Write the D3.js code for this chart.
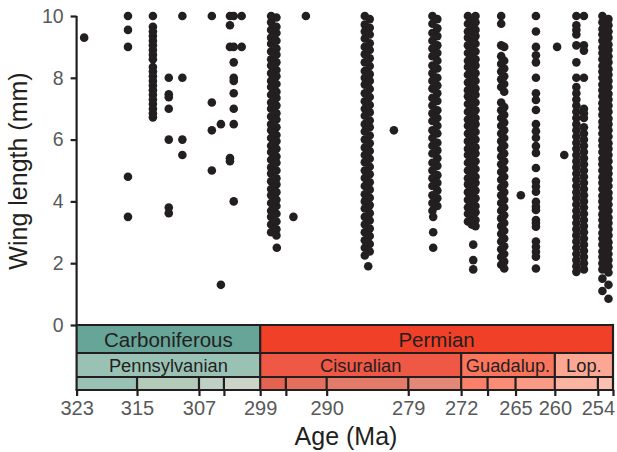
<!DOCTYPE html>
<html><head><meta charset="utf-8">
<script src="https://cdn.jsdelivr.net/npm/d3@7"></script>
<style>
body{margin:0;background:#fff;}
svg{display:block;font-family:"Liberation Sans",Arial,Helvetica,sans-serif;}
</style></head><body>
<svg id="chart" width="617" height="452"></svg>
<script>
// ---------- DATA ----------
// Geological time scale (Ma)
const periodNames = ["Carboniferous", "Permian"];
const periodBounds = [323.2, 298.9, 252.2];
const periodColors = ["#67A599", "#F04028"];

const epochNames = ["Pennsylvanian", "Cisuralian", "Guadalup.", "Lop."];
const epochBounds = [323.2, 298.9, 272.3, 259.9, 252.2];
const epochColors = ["#99C2B5", "#EF5845", "#FB745C", "#FBA794"];

const stageBounds = [323.2, 315.2, 307.0, 303.7, 298.9, 295.5, 290.1, 279.3, 272.3, 268.8, 265.1, 259.9, 254.2, 252.2];
const stageColors = ["#99C2B5", "#B3CBB9", "#BFD0C5", "#CCD4C7", "#E36350", "#E36F5C", "#E37B68", "#E38776", "#FB8069", "#FB8D76", "#FB9A85", "#FCB4A2", "#FCC0B2"];

const xTickAges = [323.2, 315.2, 307.0, 303.7, 298.9, 295.5, 290.1, 279.3, 272.3, 268.8, 265.1, 259.9, 254.2, 252.2];
const xTickLabels = ["323", "315", "307", "", "299", "", "290", "279", "272", "", "265", "260", "254", ""];
const yTicks = [0, 2, 4, 6, 8, 10];

// Occurrences: age of each collection and the wing lengths (mm) found there
const columnAges = [
  322.2, 316.4, 313.1, 311.0, 309.2, 305.3, 304.1, 302.9, 302.4, 301.35,
  297.45, 296.75, 296.7, 294.5, 292.85,
  285.05, 284.4, 284.6, 281.2,
  276.1, 275.45, 276.0,
  271.4, 270.9, 270.4, 270.7,
  267.0, 266.6, 264.4, 262.4, 259.6, 258.65,
  257.05, 256.05, 253.6, 252.8
];
const wingLengths = [
  [9.3],
  [10, 9.55, 9.0, 4.8, 3.5],
  [10, 9.65, 9.5, 9.35, 9.2, 9.05, 8.9, 8.75, 8.6, 8.35, 8.2, 8.05, 7.9, 7.75, 7.6, 7.45, 7.3, 7.15, 7.0, 6.85, 6.72],
  [8.0, 7.47, 7.37, 7.0, 6.0, 3.8, 3.62],
  [10, 8.0, 6.0, 5.5],
  [10, 7.2, 6.3, 5.0],
  [6.5, 1.3],
  [10, 9.7, 9.0, 5.4, 5.3],
  [10, 9.0, 8.5, 8.0, 7.9, 7.5, 7.0, 6.5, 4.0],
  [10, 9.0],
  [10.0, 9.8, 9.55, 9.3, 9.1, 8.85, 8.6, 8.4, 8.15, 7.9, 7.7, 7.45, 7.2, 7.0, 6.75, 6.5, 6.3, 6.05, 5.8, 5.6, 5.35, 5.1, 4.9, 4.65, 4.4, 4.2, 3.95, 3.7, 3.5, 3.25, 3.0],
  [9.95, 9.65, 9.45, 9.2, 8.95, 8.75, 8.5, 8.25, 8.05, 7.8, 7.55, 7.35, 7.1, 6.85, 6.65, 6.4, 6.15, 5.95, 5.7, 5.45, 5.25, 5.0, 4.75, 4.55, 4.3, 4.05, 3.85, 3.6, 3.35, 3.1, 2.9],
  [2.5],
  [3.5],
  [10],
  [10.0, 9.72, 9.5, 9.27, 9.0, 8.76, 8.5, 8.22, 8.0, 7.78, 7.5, 7.24, 7.0, 6.77, 6.5, 6.26, 6.0, 5.74, 5.5, 5.27, 5.0, 4.76, 4.5, 4.23, 4.0, 3.77, 3.5, 3.25, 3.0, 2.74, 2.5, 2.25],
  [9.9, 9.62, 9.4, 9.12, 8.9, 8.63, 8.38, 8.12, 7.9, 7.64, 7.38, 7.12, 6.88, 6.62, 6.4, 6.13, 5.88, 5.63, 5.38, 5.12, 4.88, 4.62, 4.38, 4.12, 3.88, 3.62, 3.38, 3.12, 2.88, 2.62, 2.38],
  [1.9],
  [6.3],
  [10.0, 9.75, 9.45, 9.2, 8.95, 8.7, 8.4, 8.15, 7.9, 7.65, 7.35, 7.1, 6.85, 6.6, 6.3, 6.05, 5.8, 5.55, 5.25, 5.0, 4.75, 4.5, 4.2, 3.95, 3.7],
  [9.9, 9.6, 9.35, 9.05, 8.8, 8.55, 8.3, 8.0, 7.75, 7.5, 7.25, 6.95, 6.7, 6.45, 6.2, 5.9, 5.65, 5.4, 5.15, 4.85, 4.6, 4.35, 4.1, 3.85],
  [3.5, 3.0, 2.5],
  [10.0, 9.75, 9.5, 9.3, 9.05, 8.8, 8.55, 8.35, 8.1, 7.85, 7.6, 7.4, 7.15, 6.9, 6.65, 6.45, 6.2, 5.95, 5.7, 5.5, 5.25, 5.0, 4.75, 4.55, 4.3, 4.05, 3.8, 3.6, 3.35],
  [9.9, 9.65, 9.4, 9.2, 8.95, 8.7, 8.45, 8.25, 8.0, 7.75, 7.5, 7.3, 7.05, 6.8, 6.55, 6.35, 6.1, 5.85, 5.6, 5.4, 5.15, 4.9, 4.65, 4.45, 4.2, 3.95, 3.7, 3.5, 3.25],
  [10.0, 9.8, 9.55, 9.35, 9.1, 8.85, 8.6, 8.4, 8.15, 7.9, 7.65, 7.45, 7.2, 6.95, 6.7, 6.5, 6.25, 6.0, 5.75, 5.55, 5.3, 5.05, 4.8, 4.6, 4.35, 4.1, 3.85, 3.65, 3.4, 3.2],
  [2.6, 2.1, 1.8],
  [10.0, 9.75, 9.05, 8.7, 8.45, 8.2, 7.95, 7.7, 7.2, 6.95, 6.7, 6.45, 6.2, 5.95, 5.7, 5.45, 5.2, 4.95, 4.7, 4.45, 4.2, 3.95, 3.7, 3.45, 3.2, 2.95, 2.7, 2.45, 2.2, 1.95],
  [9.0, 8.55, 8.3, 8.05, 7.8, 7.55, 7.05, 6.8, 6.55, 6.3, 6.05, 5.8, 5.55, 5.3, 5.05, 4.8, 4.55, 4.3, 4.05, 3.8, 3.55, 3.3, 3.05, 2.8, 2.55, 2.3, 2.05, 1.83],
  [4.2],
  [10, 9.5, 9.0, 8.73, 8.5, 8.0, 7.5, 7.28, 6.96, 6.5, 6.27, 6.06, 5.79, 5.57, 5.08, 4.64, 4.48, 4.31, 3.99, 3.83, 3.72, 3.4, 3.3, 3.18, 2.7, 2.53, 2.37, 2.21, 1.83],
  [9.0],
  [5.5],
  [10.0, 9.7, 9.55, 9.4, 9.05, 8.5, 8.0, 7.7, 7.5, 7.3, 7.1, 6.9, 6.7, 6.5, 6.3, 6.1, 5.9, 5.7, 5.5, 5.3, 5.1, 4.9, 4.7, 4.5, 4.3, 4.1, 3.9, 3.7, 3.5, 3.3, 3.1, 2.9, 2.7, 2.5, 2.3, 2.1, 1.9, 1.72],
  [10.0, 9.05, 8.88, 8.0, 7.0, 6.85, 6.7, 6.4, 6.2, 6.0, 5.8, 5.6, 5.4, 5.2, 5.0, 4.8, 4.6, 4.4, 4.2, 4.0, 3.8, 3.6, 3.4, 3.2, 3.0, 2.8, 2.6, 2.4, 2.2, 2.0, 1.8],
  [10.0, 9.8, 9.58, 9.4, 9.2, 8.98, 8.8, 8.6, 8.38, 8.2, 8.0, 7.78, 7.6, 7.4, 7.18, 7.0, 6.8, 6.58, 6.4, 6.2, 5.98, 5.8, 5.6, 5.38, 5.2, 5.0, 4.78, 4.6, 4.4, 4.18, 4.0, 3.8, 3.58, 3.4, 3.2, 2.98, 2.8, 2.6, 2.38, 2.2, 2.0, 1.8, 1.5, 1.1],
  [9.9, 9.7, 9.5, 9.3, 9.08, 8.9, 8.7, 8.5, 8.28, 8.1, 7.9, 7.7, 7.48, 7.3, 7.1, 6.9, 6.68, 6.5, 6.3, 6.1, 5.88, 5.7, 5.5, 5.3, 5.08, 4.9, 4.7, 4.5, 4.28, 4.1, 3.9, 3.7, 3.48, 3.3, 3.1, 2.9, 2.68, 2.5, 2.3, 2.1, 1.9, 1.7, 1.3, 0.85]
];

// ---------- CHART ----------
const svg = d3.select("#chart");
const ink = "#231f20";
const tickGray = "#58595b";
const x = d3.scaleLinear().domain([323.2, 252.2]).range([76.6, 613]);
const y = d3.scaleLinear().domain([0, 10]).range([325, 16]);
const rowTop = 325, rowEpoch = 353, rowStage = 377, rowBottom = 390;
const lw = 2.2;

const points = [];
columnAges.forEach((a, i) => wingLengths[i].forEach(v => points.push({age: a, wing: v})));

// Points
svg.append("g").selectAll("circle").data(points).join("circle")
  .attr("cx", d => x(d.age)).attr("cy", d => y(d.wing)).attr("r", 4.3)
  .attr("fill", ink);

// Time scale rows
const ts = svg.append("g");
const spans = (bounds) => d3.range(bounds.length - 1).map(i => ({a: bounds[i], b: bounds[i + 1], i}));
ts.selectAll("rect.period").data(spans(periodBounds)).join("rect")
  .attr("x", d => x(d.a)).attr("width", d => x(d.b) - x(d.a))
  .attr("y", rowTop).attr("height", rowEpoch - rowTop).attr("fill", d => periodColors[d.i]);
ts.selectAll("rect.epoch").data(spans(epochBounds)).join("rect")
  .attr("x", d => x(d.a)).attr("width", d => x(d.b) - x(d.a))
  .attr("y", rowEpoch).attr("height", rowStage - rowEpoch).attr("fill", d => epochColors[d.i]);
ts.selectAll("rect.stage").data(spans(stageBounds)).join("rect")
  .attr("x", d => x(d.a)).attr("width", d => x(d.b) - x(d.a))
  .attr("y", rowStage).attr("height", rowBottom - rowStage).attr("fill", d => stageColors[d.i]);

const x0 = x(periodBounds[0]), x1 = x(periodBounds[periodBounds.length - 1]);
// Horizontal rules
[rowTop, rowEpoch, rowStage].forEach(yy => ts.append("line")
  .attr("x1", x0).attr("x2", x1).attr("y1", yy).attr("y2", yy)
  .attr("stroke", ink).attr("stroke-width", lw));
// Vertical rules
stageBounds.slice(1, -1).forEach(a => ts.append("line")
  .attr("x1", x(a)).attr("x2", x(a)).attr("y1", rowStage).attr("y2", rowBottom)
  .attr("stroke", ink).attr("stroke-width", lw));
epochBounds.slice(1, -1).forEach(a => ts.append("line")
  .attr("x1", x(a)).attr("x2", x(a)).attr("y1", rowEpoch).attr("y2", rowStage)
  .attr("stroke", ink).attr("stroke-width", lw));
periodBounds.slice(1, -1).forEach(a => ts.append("line")
  .attr("x1", x(a)).attr("x2", x(a)).attr("y1", rowTop).attr("y2", rowEpoch)
  .attr("stroke", ink).attr("stroke-width", lw));
ts.append("line").attr("x1", x1).attr("x2", x1).attr("y1", rowTop - lw / 2).attr("y2", rowBottom)
  .attr("stroke", ink).attr("stroke-width", lw);

// Labels in time scale
ts.selectAll("text.period").data(spans(periodBounds)).join("text")
  .attr("x", d => (x(d.a) + x(d.b)) / 2).attr("y", 346.5)
  .attr("text-anchor", "middle").attr("font-size", "20.5px").attr("fill", ink)
  .text(d => periodNames[d.i]);
ts.selectAll("text.epoch").data(spans(epochBounds)).join("text")
  .attr("x", d => (x(d.a) + x(d.b)) / 2).attr("y", 372.3)
  .attr("text-anchor", "middle").attr("font-size", "18.3px").attr("fill", ink)
  .text(d => epochNames[d.i]);

// X axis
const xAxis = d3.axisBottom(x).tickValues(xTickAges)
  .tickFormat((d, i) => xTickLabels[i]).tickSize(6).tickPadding(5).tickSizeOuter(0);
const gx = svg.append("g").attr("transform", `translate(0,${rowBottom})`).call(xAxis);
gx.select(".domain").attr("stroke", ink).attr("stroke-width", lw).attr("d", `M${x0 - lw/2},0H${x1 + lw/2}`);
gx.selectAll(".tick line").attr("stroke", ink).attr("stroke-width", lw);
gx.selectAll(".tick text").attr("fill", tickGray).attr("font-size", "20px")
  .attr("font-family", "'Liberation Sans', Arial, Helvetica, sans-serif");

// Y axis
const yAxis = d3.axisLeft(y).tickValues(yTicks).tickSize(6).tickPadding(7).tickSizeOuter(0);
const gy = svg.append("g").attr("transform", `translate(${x0},0)`).call(yAxis);
gy.select(".domain").attr("stroke", ink).attr("stroke-width", lw).attr("d", `M0,${y(10)}V${rowBottom}`);
gy.selectAll(".tick line").attr("stroke", ink).attr("stroke-width", lw);
gy.selectAll(".tick text").attr("fill", tickGray).attr("font-size", "19.5px")
  .attr("font-family", "'Liberation Sans', Arial, Helvetica, sans-serif");

// Axis titles
svg.append("text").attr("x", 346).attr("y", 445).attr("text-anchor", "middle")
  .attr("font-size", "25px").attr("fill", ink).text("Age (Ma)");
svg.append("text").attr("transform", "translate(27,171) rotate(-90)").attr("text-anchor", "middle")
  .attr("font-size", "25px").attr("fill", ink).text("Wing length (mm)");
</script>
</body></html>
